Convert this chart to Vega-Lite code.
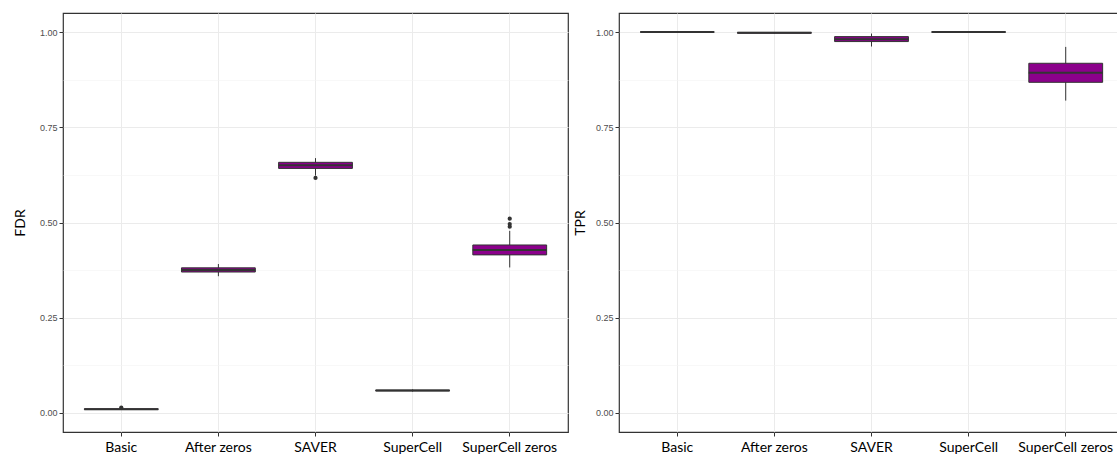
{
  "$schema": "https://vega.github.io/schema/vega-lite/v6.json",
  "background": "white",
  "padding": {"left": 12, "top": 12, "right": 0, "bottom": 0},
  "spacing": 3,
  "datasets": {
    "fdr": [
      {"method": "Basic", "lower": 0.008, "q1": 0.009, "median": 0.010, "q3": 0.011, "upper": 0.012},
      {"method": "After zeros", "lower": 0.359, "q1": 0.370, "median": 0.375, "q3": 0.381, "upper": 0.391},
      {"method": "SAVER", "lower": 0.623, "q1": 0.642, "median": 0.650, "q3": 0.658, "upper": 0.669},
      {"method": "SuperCell", "lower": 0.056, "q1": 0.058, "median": 0.059, "q3": 0.060, "upper": 0.062},
      {"method": "SuperCell zeros", "lower": 0.382, "q1": 0.415, "median": 0.428, "q3": 0.441, "upper": 0.478}
    ],
    "fdrOut": [
      {"method": "Basic", "value": 0.014},
      {"method": "SAVER", "value": 0.617},
      {"method": "SuperCell zeros", "value": 0.489},
      {"method": "SuperCell zeros", "value": 0.496},
      {"method": "SuperCell zeros", "value": 0.510}
    ],
    "tpr": [
      {"method": "Basic", "lower": 1.0, "q1": 1.0, "median": 1.0, "q3": 1.0, "upper": 1.0},
      {"method": "After zeros", "lower": 0.996, "q1": 0.997, "median": 0.998, "q3": 0.999, "upper": 1.0},
      {"method": "SAVER", "lower": 0.962, "q1": 0.975, "median": 0.981, "q3": 0.988, "upper": 0.996},
      {"method": "SuperCell", "lower": 1.0, "q1": 1.0, "median": 1.0, "q3": 1.0, "upper": 1.0},
      {"method": "SuperCell zeros", "lower": 0.820, "q1": 0.868, "median": 0.893, "q3": 0.918, "upper": 0.961}
    ]
  },
  "config": {
    "view": {"stroke": "#333333", "strokeWidth": 1.2},
    "axisX": {
      "labelFont": "Lato", "labelFontSize": 14, "labelColor": "#000000", "labelAngle": 0,
      "tickColor": "#333333", "tickSize": 4, "labelPadding": 4, "domain": false,
      "grid": true, "gridColor": "#ebebeb", "gridWidth": 1
    },
    "axisY": {
      "labelFont": "Liberation Sans", "labelFontSize": 9, "labelColor": "#4d4d4d",
      "tickColor": "#333333", "tickSize": 4, "labelPadding": 2, "domain": false,
      "titleFont": "Lato", "titleFontSize": 14, "titleFontWeight": "normal", "titleColor": "#000000", "titlePadding": 8
    }
  },
  "hconcat": [
    {
      "width": 505, "height": 419,
      "data": {"name": "fdr"},
      "encoding": {
        "x": {"field": "method", "type": "nominal", "title": null,
              "sort": ["Basic", "After zeros", "SAVER", "SuperCell", "SuperCell zeros"],
              "scale": {"type": "band", "paddingInner": 0, "paddingOuter": 0.1}}
      },
      "layer": [
        {"mark": {"type": "rule", "color": "#333333", "strokeWidth": 1},
         "encoding": {
           "y": {"field": "lower", "type": "quantitative", "title": "FDR",
                 "scale": {"domain": [-0.05, 1.05], "nice": false, "zero": false},
                 "axis": {"values": [0, 0.125, 0.25, 0.375, 0.5, 0.625, 0.75, 0.875, 1], "format": ".2f",
                          "titlePadding": 12,
                          "labelExpr": "(datum.value*4) % 1 === 0 ? datum.label : ''",
                          "grid": true,
                          "gridColor": {"condition": {"test": "(datum.value*4) % 1 !== 0", "value": "#f4f4f4"}, "value": "#ebebeb"},
                          "gridWidth": {"condition": {"test": "(datum.value*4) % 1 !== 0", "value": 0.6}, "value": 1},
                          "tickOpacity": {"condition": {"test": "(datum.value*4) % 1 !== 0", "value": 0}, "value": 1}}},
           "y2": {"field": "upper"}
         }},
        {"mark": {"type": "bar", "fill": "#8B008B", "stroke": "#333333", "strokeWidth": 1, "width": {"band": 0.76}},
         "encoding": {"y": {"field": "q1", "type": "quantitative", "title": "FDR"}, "y2": {"field": "q3"}}},
        {"mark": {"type": "tick", "color": "#333333", "thickness": 2, "size": 74, "opacity": 1},
         "encoding": {"y": {"field": "median", "type": "quantitative", "title": "FDR"}}},
        {"data": {"name": "fdrOut"},
         "mark": {"type": "point", "filled": true, "color": "#333333", "size": 18, "opacity": 1},
         "encoding": {"y": {"field": "value", "type": "quantitative", "title": "FDR"}}}
      ]
    },
    {
      "width": 505, "height": 419,
      "data": {"name": "tpr"},
      "encoding": {
        "x": {"field": "method", "type": "nominal", "title": null,
              "sort": ["Basic", "After zeros", "SAVER", "SuperCell", "SuperCell zeros"],
              "scale": {"type": "band", "paddingInner": 0, "paddingOuter": 0.1}}
      },
      "layer": [
        {"mark": {"type": "rule", "color": "#333333", "strokeWidth": 1},
         "encoding": {
           "y": {"field": "lower", "type": "quantitative", "title": "TPR",
                 "scale": {"domain": [-0.05, 1.05], "nice": false, "zero": false},
                 "axis": {"values": [0, 0.125, 0.25, 0.375, 0.5, 0.625, 0.75, 0.875, 1], "format": ".2f",
                          "labelExpr": "(datum.value*4) % 1 === 0 ? datum.label : ''",
                          "grid": true,
                          "gridColor": {"condition": {"test": "(datum.value*4) % 1 !== 0", "value": "#f4f4f4"}, "value": "#ebebeb"},
                          "gridWidth": {"condition": {"test": "(datum.value*4) % 1 !== 0", "value": 0.6}, "value": 1},
                          "tickOpacity": {"condition": {"test": "(datum.value*4) % 1 !== 0", "value": 0}, "value": 1}}},
           "y2": {"field": "upper"}
         }},
        {"mark": {"type": "bar", "fill": "#8B008B", "stroke": "#333333", "strokeWidth": 1, "width": {"band": 0.76}},
         "encoding": {"y": {"field": "q1", "type": "quantitative", "title": "TPR"}, "y2": {"field": "q3"}}},
        {"mark": {"type": "tick", "color": "#333333", "thickness": 2, "size": 74, "opacity": 1},
         "encoding": {"y": {"field": "median", "type": "quantitative", "title": "TPR"}}}
      ]
    }
  ]
}
